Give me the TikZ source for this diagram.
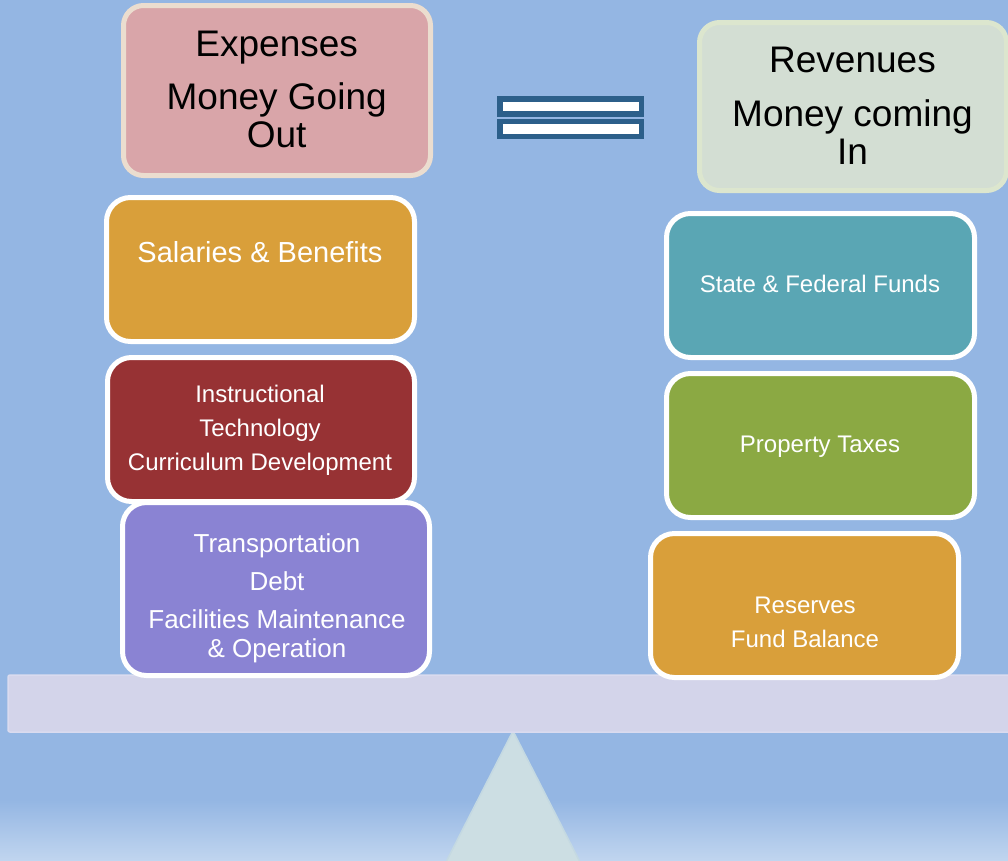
\documentclass[tikz,border=0pt]{standalone}
\usepackage{fontspec}
\setmainfont{Liberation Sans}
\usepackage{xcolor}
\usetikzlibrary{shapes}
\definecolor{skyblue}{HTML}{94B6E3}
\definecolor{skylight}{HTML}{C0D5EF}
\definecolor{expensefill}{HTML}{D9A5A9}
\definecolor{expenseedge}{HTML}{EBDDCF}
\definecolor{revenuefill}{HTML}{D3DED3}
\definecolor{revenueedge}{HTML}{DCE6CE}
\definecolor{eqblue}{HTML}{2C5F8A}
\definecolor{gold}{HTML}{D99F3A}
\definecolor{wine}{HTML}{973234}
\definecolor{lavender}{HTML}{8A83D3}
\definecolor{statecol}{HTML}{5AA6B4}
\definecolor{taxgreen}{HTML}{8BA943}
\definecolor{beamfill}{HTML}{D3D4EA}
\definecolor{beamedge}{HTML}{DADBEF}
\definecolor{fulcrum}{HTML}{CCDEE3}
\definecolor{fulcrumedge}{HTML}{C4D9E2}
\tikzset{
	weight/.style={
			rectangle, rounded corners=24pt, draw=white, line width=5pt,
			minimum width=308pt, minimum height=144pt, inner sep=0pt
		},
	title/.style={
			rectangle, rounded corners=20pt, line width=5pt,
			minimum width=307pt, inner sep=0pt
		},
	wlabel/.style={text=white, align=center, font=\fontsize{24}{34}\selectfont},
	tlabel/.style={text=black, align=center, font=\fontsize{37}{38}\selectfont},
	eqbar/.style={
			rectangle, draw=eqblue, fill=white, line width=5.5pt,
			minimum width=141.5pt, minimum height=15pt, inner sep=0pt
		}
}

\begin{document}
\begin{tikzpicture}[x=1pt, y=-1pt]
    \useasboundingbox (0,0) rectangle (1008,860);

    % Sky behind the scale
    \fill[skyblue] (0,0) rectangle (1008,860);
    \shade[top color=skyblue, bottom color=skylight] (0,800) rectangle (1008,860);

    % Fulcrum and beam
    \filldraw[fill=fulcrum, draw=fulcrumedge, line width=1.5pt] (513,731) -- (446,862) -- (580,862) -- cycle;
    \filldraw[fill=beamfill, draw=beamedge, line width=1.5pt, rounded corners=2pt] (8,675) rectangle (1014,732);

    % Expense side
    \node[title, draw=expenseedge, fill=expensefill, minimum height=170pt] (expenses) at (277,90.5) {};
    \node[tlabel] (expensestext) at (276.7,89.3) {Expenses\\[15pt]Money Going\\Out};

    \node[weight, fill=gold] (salaries) at (260.5,269.5) {};
    \node[wlabel, font=\fontsize{29}{34}\selectfont] (salariestext) at (260,252) {Salaries \& Benefits};

    \node[weight, fill=wine, minimum width=307pt] (instruction) at (261,429.5) {};
    \node[wlabel] (instructiontext) at (260,430.4) {Instructional\\Technology\\Curriculum Development};

    \node[weight, fill=lavender, minimum width=307pt, minimum height=173pt] (transport) at (276,589) {};
    \node[wlabel, font=\fontsize{26}{29}\selectfont] (transporttext) at (277,598) {Transportation\\[9pt]Debt\\[9pt]Facilities Maintenance\\\& Operation};

    % Equals sign
    \foreach \y [count=\i] in {106.5,129} {
      \node[eqbar] (bar\i) at (570.5,\y) {};
    }

    % Revenue side
    \node[title, draw=revenueedge, fill=revenuefill, minimum height=168pt] (revenues) at (853,106.5) {};
    \node[tlabel] (revenuestext) at (852.5,105.75) {Revenues\\[16pt]Money coming\\In};

    \node[weight, fill=statecol] (funds) at (820.5,285.5) {};
    \node[wlabel] (fundstext) at (820,284.4) {State \& Federal Funds};

    \node[weight, fill=taxgreen] (taxes) at (820.5,445.5) {};
    \node[wlabel] (taxestext) at (820,447) {Property Taxes};

    \node[weight, fill=gold] (reserves) at (804.5,605.5) {};
    \node[wlabel] (reservestext) at (805,622) {Reserves\\Fund Balance};
\end{tikzpicture}
\end{document}
